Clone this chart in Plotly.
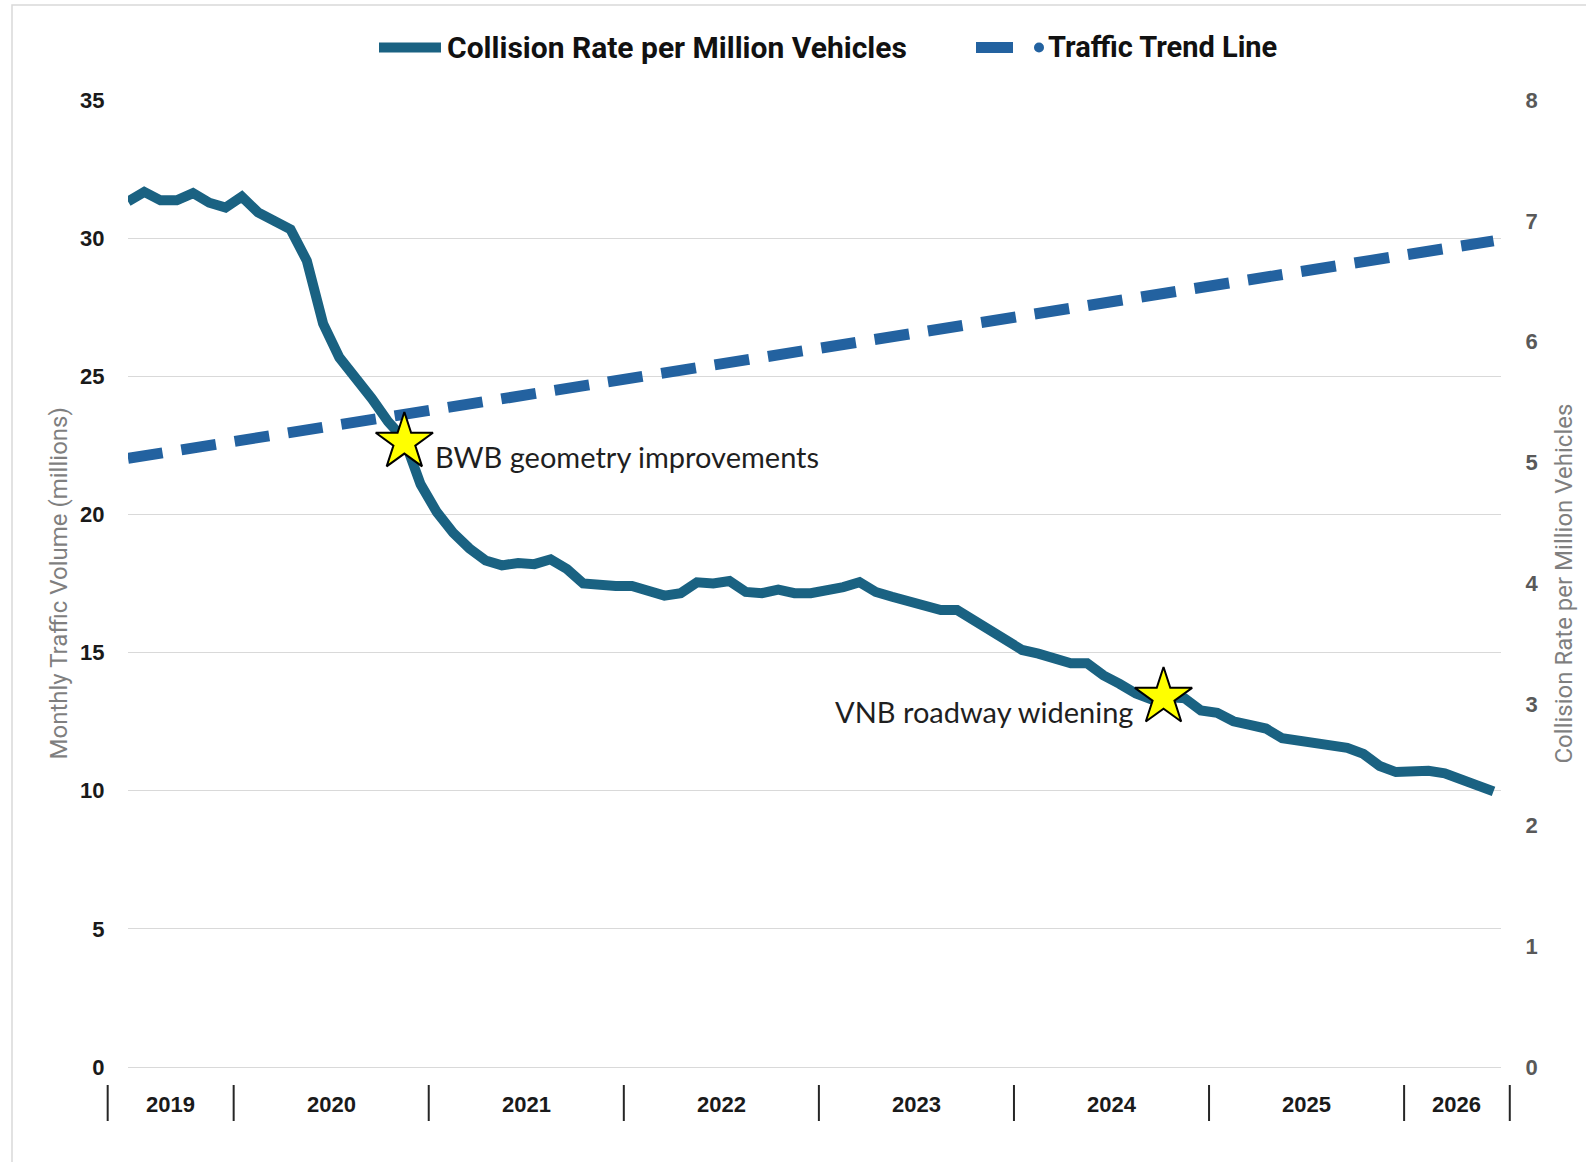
import plotly.graph_objects as go
import pandas as pd

# ---------------- data ----------------
months = pd.date_range("2019-06-01", periods=85, freq="MS")

collision_rate = [
    7.16, 7.24, 7.17, 7.17, 7.23, 7.15, 7.11, 7.20, 7.07, 7.01, 6.93, 6.67,
    6.15, 5.87, 5.71, 5.53, 5.34, 5.19, 4.82, 4.59, 4.42, 4.29, 4.19, 4.15,
    4.17, 4.16, 4.20, 4.12, 4.00, 3.98, 3.98, 3.98, 3.93, 3.90, 3.92, 4.01,
    4.00, 4.02, 3.93, 3.92, 3.95, 3.92, 3.92, 3.94, 3.97, 4.01, 3.93, 3.89,
    3.86, 3.81, 3.78, 3.78, 3.70, 3.62, 3.55, 3.45, 3.42, 3.37, 3.34, 3.34,
    3.24, 3.17, 3.09, 3.04, 3.06, 3.05, 2.95, 2.93, 2.86, 2.83, 2.80, 2.72,
    2.70, 2.66, 2.64, 2.64, 2.59, 2.49, 2.44, 2.45, 2.45, 2.43, 2.39, 2.33,
    2.28,
]

trend_month_idx = [0, 84]
trend_volume = [22.03, 29.90]

event_month_idx = [17, 63.7]
event_rate = [5.17, 3.06]
event_labels = ["BWB geometry improvements", "VNB roadway widening"]

left_ticks = [0, 5, 10, 15, 20, 25, 30, 35]
right_ticks = [0, 1, 2, 3, 4, 5, 6, 7, 8]

series_names = ["Collision Rate per Million Vehicles", "Traffic Trend Line"]
left_title = "Monthly Traffic Volume (millions)"
right_title = "Collision Rate per Million Vehicles"

# ---------------- styling / layout constants ----------------
W, H = 1586, 1162
M_L, M_R, M_T, M_B = 128, 85, 100, 95
PLOT_L, PLOT_R = M_L, W - M_R
PLOT_T, PLOT_B = M_T, H - M_B
X_RANGE = [0, 84.46]

C_COLL = "#1A6282"
C_TREND = "#2362A0"
GRID = "#D9D9D9"


def px_x(px):
    return (px - PLOT_L) / (PLOT_R - PLOT_L)


def px_y(py):
    return (PLOT_B - py) / (PLOT_B - PLOT_T)


def idx_x(i):
    return (i - X_RANGE[0]) / (X_RANGE[1] - X_RANGE[0])


x_idx = list(range(len(months)))

fig = go.Figure()

fig.add_trace(go.Scatter(
    x=trend_month_idx, y=trend_volume, mode="lines", name=series_names[1],
    line=dict(color=C_TREND, width=11, dash="35px,19px"),
    yaxis="y", showlegend=False, hoverinfo="skip",
))

fig.add_trace(go.Scatter(
    x=x_idx, y=collision_rate, mode="lines", name=series_names[0],
    line=dict(color=C_COLL, width=10), yaxis="y2", showlegend=False,
))

fig.add_trace(go.Scatter(
    x=event_month_idx, y=event_rate, mode="markers", yaxis="y2",
    marker=dict(symbol="star", size=43, color="#FFFF00",
                line=dict(color="#000000", width=2)),
    showlegend=False, hoverinfo="skip",
))

annotations = []
shapes = []

# event labels
ev_font = dict(family="Lato", size=29, color="#1F1F1F")
annotations.append(dict(
    x=event_month_idx[0], y=event_rate[0], xref="x", yref="y2",
    text=event_labels[0], showarrow=False, xanchor="left", yanchor="middle",
    xshift=29, yshift=-14, font=ev_font,
))
annotations.append(dict(
    x=event_month_idx[1], y=event_rate[1], xref="x", yref="y2",
    text=event_labels[1], showarrow=False, xanchor="right", yanchor="middle",
    xshift=-29, yshift=-14, font=ev_font,
))

# year group labels & separators on the category axis
years = sorted(set(m.year for m in months))
first_idx = {y: min(i for i, m in enumerate(months) if m.year == y) for y in years}
last_idx = {y: max(i for i, m in enumerate(months) if m.year == y) for y in years}
bounds = [first_idx[years[0]] - 1.25] + [first_idx[y] - 0.5 for y in years[1:]] + [last_idx[years[-1]] + 1.0]
for b in bounds:
    shapes.append(dict(type="line", xref="paper", yref="paper",
                       x0=idx_x(b), x1=idx_x(b), y0=px_y(1085), y1=px_y(1121),
                       line=dict(color="#262626", width=2)))
for k, y in enumerate(years):
    annotations.append(dict(
        x=idx_x((bounds[k] + bounds[k + 1]) / 2), y=px_y(1104), xref="paper", yref="paper",
        text=str(y), showarrow=False, xanchor="center", yanchor="middle",
        font=dict(family="Liberation Sans", size=22, color="#1A1A1A", weight="bold"),
    ))

# axis titles
annotations.append(dict(
    x=px_x(58), y=0.5, xref="paper", yref="paper", text=left_title, textangle=-90,
    showarrow=False, xanchor="center", yanchor="middle",
    font=dict(family="Roboto", size=24, color="#7F7F7F"),
))
annotations.append(dict(
    x=px_x(1563), y=0.5, xref="paper", yref="paper", text=right_title, textangle=-90,
    showarrow=False, xanchor="center", yanchor="middle",
    font=dict(family="Roboto", size=24, color="#7F7F7F"),
))

# custom legend
LEG_Y = px_y(47.5)
leg_font = dict(family="Roboto", size=30, color="#111111", weight="bold")
shapes.append(dict(type="line", xref="paper", yref="paper",
                   x0=px_x(379), x1=px_x(441), y0=LEG_Y, y1=LEG_Y,
                   line=dict(color=C_COLL, width=10)))
annotations.append(dict(
    x=px_x(445), y=LEG_Y, xref="paper", yref="paper", text=series_names[0],
    showarrow=False, xanchor="left", yanchor="middle", font=leg_font,
))
shapes.append(dict(type="line", xref="paper", yref="paper",
                   x0=px_x(976), x1=px_x(1013), y0=LEG_Y, y1=LEG_Y,
                   line=dict(color=C_TREND, width=11)))
shapes.append(dict(type="circle", xref="paper", yref="paper",
                   x0=px_x(1034), x1=px_x(1044), y0=px_y(52.5), y1=px_y(42.5),
                   fillcolor=C_TREND, line=dict(width=0)))
annotations.append(dict(
    x=px_x(1046), y=LEG_Y, xref="paper", yref="paper", text=series_names[1],
    showarrow=False, xanchor="left", yanchor="middle",
    font=dict(family="Roboto", size=29, color="#111111", weight="bold"),
))

# chart frame
shapes.append(dict(type="rect", xref="paper", yref="paper",
                   x0=px_x(12), x1=px_x(1620), y0=px_y(5), y1=px_y(1200),
                   line=dict(color="#D9D9D9", width=1.5), fillcolor="rgba(0,0,0,0)",
                   layer="below"))

fig.update_layout(
    width=W, height=H,
    margin=dict(l=M_L, r=M_R, t=M_T, b=M_B, pad=0),
    paper_bgcolor="white", plot_bgcolor="white",
    showlegend=False,
    xaxis=dict(range=X_RANGE, showgrid=False, zeroline=False, showline=False,
               showticklabels=False, ticks=""),
    yaxis=dict(range=[0, 35], tickvals=left_ticks, showgrid=True, gridcolor=GRID,
               gridwidth=1.3, zeroline=True, zerolinecolor=GRID, zerolinewidth=1.3,
               showline=False, ticks="outside", ticklen=18, tickcolor="rgba(0,0,0,0)",
               tickfont=dict(family="Liberation Sans", size=22, color="#1A1A1A", weight="bold")),
    yaxis2=dict(range=[0, 8], tickvals=right_ticks, overlaying="y", side="right",
                showgrid=False, zeroline=False, showline=False, ticks="outside",
                ticklen=19, tickcolor="rgba(0,0,0,0)",
                tickfont=dict(family="Liberation Sans", size=22, color="#595959", weight="bold")),
    annotations=annotations,
    shapes=shapes,
)

fig.write_html(
    "out.html",
    config={"displayModeBar": False},
    post_script="document.body.style.margin='0';document.body.style.overflow='hidden';",
)
